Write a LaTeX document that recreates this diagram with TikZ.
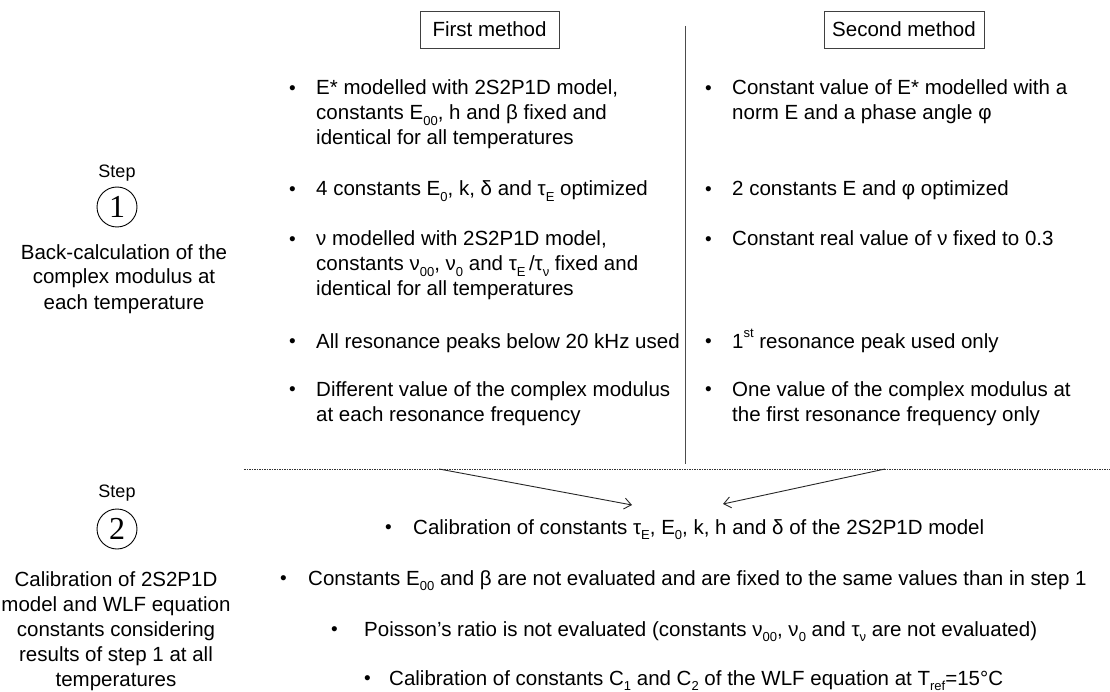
\documentclass[tikz,border=0pt]{standalone}
\usepackage{fontspec}
\setmainfont{Liberation Sans}
\newfontfamily\serifdigit{Liberation Serif}
\usetikzlibrary{arrows.meta}
\newcommand\lo[1]{\raisebox{-0.28em}{\fontsize{13}{13}\selectfont #1}}
\newcommand\hi[1]{\raisebox{0.5em}{\fontsize{13}{13}\selectfont #1}}
\newcommand\bul[2]{\makebox[#1][l]{\raisebox{0.5pt}{\fontsize{19}{19}\selectfont •}}\parbox[t]{1000pt}{\raggedright #2}}
\begin{document}
\begin{tikzpicture}[x=1pt,y=-1pt,
  txt/.style={font=\fontsize{20.5}{25}\selectfont},
  hdr/.style={txt,draw=black!75,line width=0.8pt,minimum height=37pt,inner sep=0pt},
  item/.style={txt,anchor=base west,inner sep=0pt},
  steplbl/.style={font=\fontsize{18}{20}\selectfont,anchor=base,inner sep=0pt},
  circ/.style={circle,draw=black,line width=0.9pt,minimum size=40pt,inner sep=0pt,font=\serifdigit\fontsize{32}{32}\selectfont},
  desc/.style={txt,align=center,anchor=base,inner sep=0pt},
  sep/.style={draw=black!70,line width=0.8pt},
  dashline/.style={draw=black!80,line width=0.8pt,dash pattern=on 1.5pt off 1pt},
  arr/.style={draw=black!85,line width=0.9pt,-{Straight Barb[length=7pt,width=11pt]}}
]
\useasboundingbox (0,0) rectangle (1110,692);

% headers
\node[hdr,minimum width=139pt] (fm) at (489.5,29.5) {First method};
\node[hdr,minimum width=160pt] (sm) at (904,29.5) {Second method};

% vertical separator
\coordinate (vtop) at (685,26);
\coordinate (vbot) at (685,464);
\draw[sep] (vtop) -- (vbot);

% first method
\node[item] (a1) at (289,95) {\bul{27pt}{E* modelled with 2S2P1D model,\\constants E\lo{00}, h and β fixed and\\identical for all temperatures}};
\node[item] (a2) at (289,196) {\bul{27pt}{4 constants E\lo{0}, k, δ and τ\lo{E} optimized}};
\node[item] (a3) at (289,246) {\bul{27pt}{ν modelled with 2S2P1D model,\\constants ν\lo{00}, ν\lo{0} and τ\lo{E}\,/τ\lo{ν} fixed and\\identical for all temperatures}};
\node[item] (a4) at (289,348) {\bul{27pt}{All resonance peaks below 20 kHz used}};
\node[item] (a5) at (289,396) {\bul{27pt}{Different value of the complex modulus\\at each resonance frequency}};

% second method
\node[item] (b1) at (705,95) {\bul{27pt}{Constant value of E* modelled with a\\norm E and a phase angle φ}};
\node[item] (b2) at (705,196) {\bul{27pt}{2 constants E and φ optimized}};
\node[item] (b3) at (705,246) {\bul{27pt}{Constant real value of ν fixed to 0.3}};
\node[item] (b4) at (705,348) {\bul{27pt}{1\hi{st} resonance peak used only}};
\node[item] (b5) at (705,396) {\bul{27pt}{One value of the complex modulus at\\the first resonance frequency only}};

% step 1 (base anchor of a multi-line node = last line)
\node[steplbl] (s1) at (117,178) {Step};
\node[circ] (c1) at (117,207) {1};
\node[desc] (d1) at (124,309) {Back-calculation of the\\complex modulus at\\each temperature};

% step 2
\node[steplbl] (s2) at (117,497) {Step};
\node[circ] (c2) at (117,529) {2};
\node[desc] (d2) at (116,686) {Calibration of 2S2P1D\\model and WLF equation\\constants considering\\results of step 1 at all\\temperatures};

% dashed separator and arrows
\coordinate (dl) at (244,469);
\coordinate (dr) at (1110,469);
\draw[dashline] (dl) -- (dr);
\coordinate (a1s) at (439,469);
\coordinate (a1e) at (632,505);
\coordinate (a2s) at (885,469);
\coordinate (a2e) at (723,504);
\draw[arr] (a1s) -- (a1e);
\draw[arr] (a2s) -- (a2e);

% step 2 items
\node[item] (e1) at (385,534) {\bul{28pt}{Calibration of constants τ\lo{E}, E\lo{0}, k, h and δ of the 2S2P1D model}};
\node[item] (e2) at (280,585) {\bul{28pt}{Constants E\lo{00} and β are not evaluated and are fixed to the same values than in step 1}};
\node[item] (e3) at (331,636) {\bul{33pt}{Poisson’s ratio is not evaluated (constants ν\lo{00}, ν\lo{0} and τ\lo{ν} are not evaluated)}};
\node[item] (e4) at (364,685) {\bul{25pt}{Calibration of constants C\lo{1} and C\lo{2} of the WLF equation at T\lo{ref}=15°C}};
\end{tikzpicture}
\end{document}
